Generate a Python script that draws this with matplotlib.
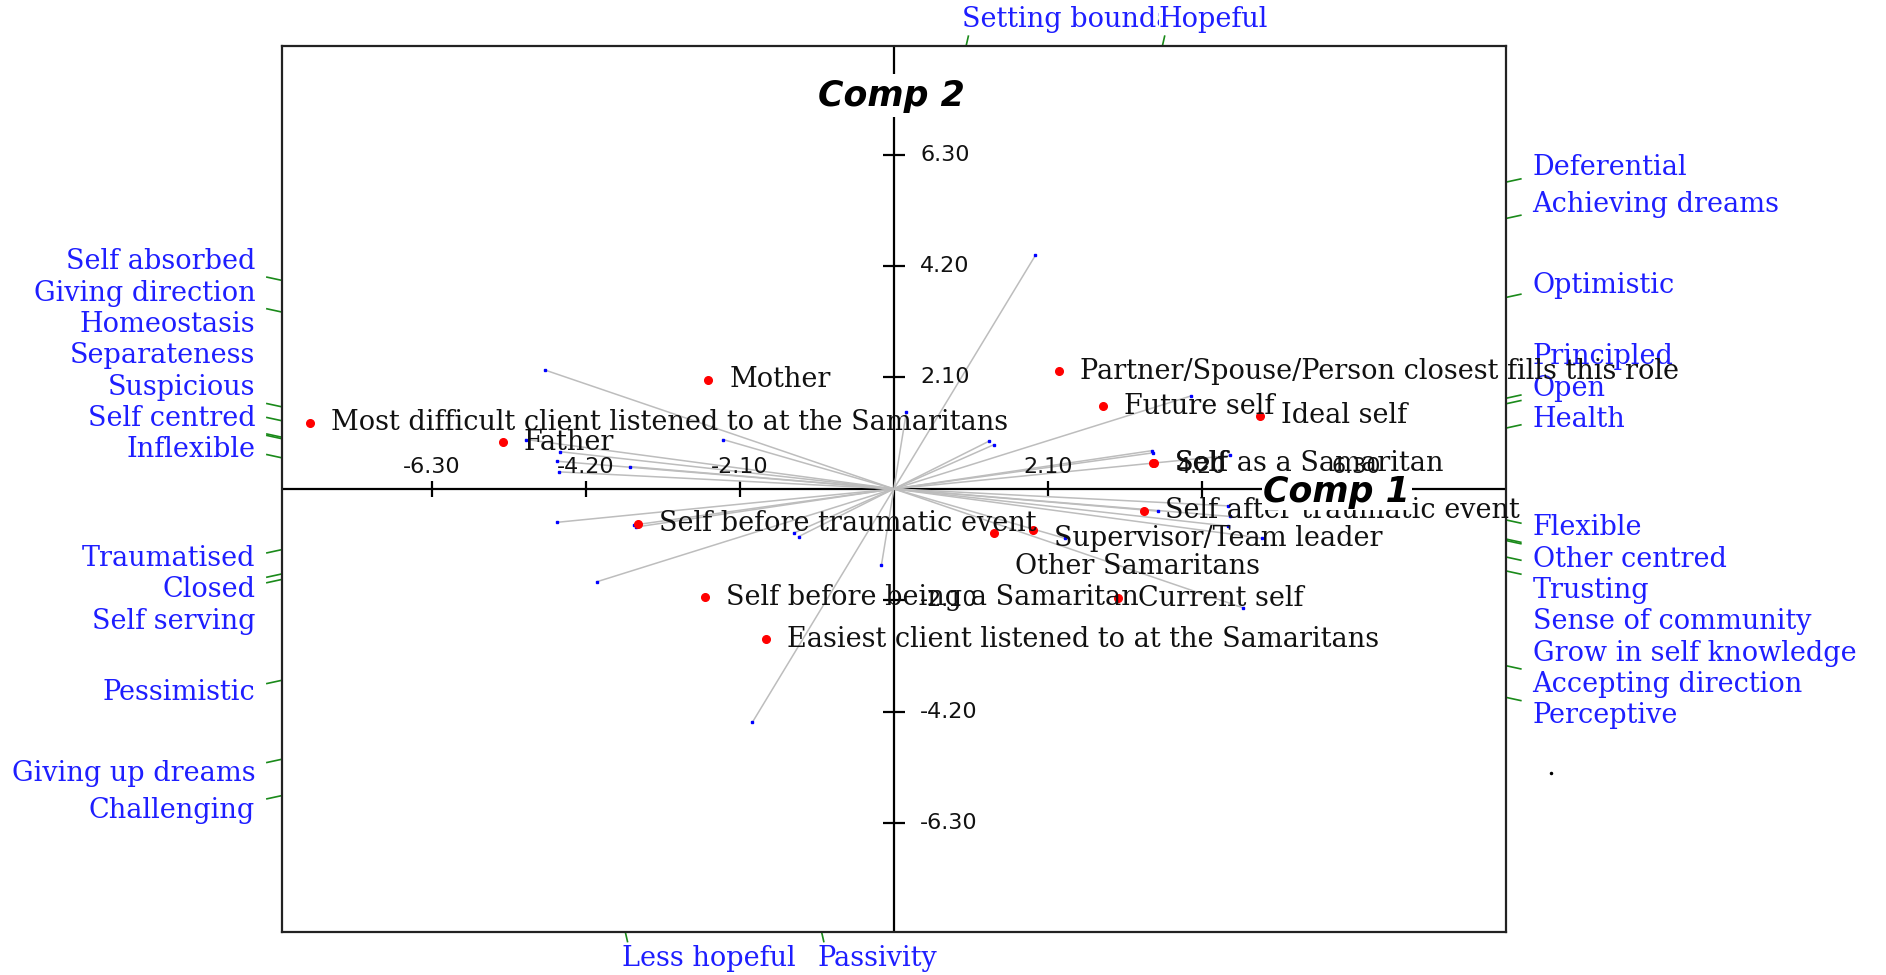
import numpy as np
import matplotlib.pyplot as plt

# ---------------------------------------------------------------------
# Grid data
# ---------------------------------------------------------------------
# Elements (red points)
element_names = [
    "Mother",
    "Most difficult client listened to at the Samaritans",
    "Father",
    "Partner/Spouse/Person closest fills this role",
    "Future self",
    "Ideal self",
    "Self",
    "Self as a Samaritan",
    "Self after traumatic event",
    "Self before traumatic event",
    "Supervisor/Team leader",
    "Other Samaritans",
    "Current self",
    "Self before being a Samaritan",
    "Easiest client listened to at the Samaritans",
]
element_x = [-2.53, -7.96, -5.33, 2.25, 2.85, 4.99, 3.54, 3.55, 3.41, -3.49, 1.90, 1.36, 3.05, -2.58, -1.74]
element_y = [2.06, 1.25, 0.88, 2.22, 1.56, 1.38, 0.48, 0.48, -0.41, -0.66, -0.77, -0.84, -2.06, -2.04, -2.83]

# Constructs: left pole, right pole, loading towards the right pole
left_poles = [
    "Self absorbed", "Giving direction", "Homeostasis", "Separateness",
    "Suspicious", "Self centred", "Inflexible", "Traumatised", "Closed",
    "Self serving", "Pessimistic", "Giving up dreams", "Challenging",
    "Less hopeful", "Passivity",
]
right_poles = [
    "Perceptive", "Accepting direction", "Grow in self knowledge",
    "Sense of community", "Trusting", "Other centred", "Flexible",
    "Health", "Open", "Principled", "Optimistic", "Achieving dreams",
    "Deferential", "Hopeful", "Setting boundaries",
]
construct_x = [4.76, 2.33, 5.02, 4.55, 3.60, 4.59, 4.56, 4.59, 3.54, 3.52, 4.05, 1.36, 1.30, 1.93, 0.17]
construct_y = [-2.24, -0.93, -0.93, -0.70, -0.42, -0.52, -0.32, 0.63, 0.68, 0.72, 1.75, 0.83, 0.90, 4.40, 1.44]

axis_ticks = [-6.30, -4.20, -2.10, 2.10, 4.20, 6.30]

LIM = 8.35
BLUE = "#1e1eff"
GREEN = "#1a8a1a"
SERIF = "DejaVu Serif"
FS = 19.5

fig = plt.figure(figsize=(18.86, 9.75), dpi=100)
ax = fig.add_axes([0.1493, 0.0441, 0.6493, 0.9090])
ax.set_xlim(-LIM, LIM)
ax.set_ylim(-LIM, LIM)
ax.set_xticks([])
ax.set_yticks([])
for sp in ax.spines.values():
    sp.set_linewidth(1.6)
    sp.set_color("#222222")

# axes through the origin
ax.axhline(0, color="black", lw=1.6, zorder=1)
ax.axvline(0, color="black", lw=1.6, zorder=1)
ax.plot(axis_ticks, np.zeros(len(axis_ticks)), ls="none", marker="|",
        ms=12, mew=1.6, color="black", zorder=1)
ax.plot(np.zeros(len(axis_ticks)), axis_ticks, ls="none", marker="_",
        ms=16, mew=1.6, color="black", zorder=1)
for t in axis_ticks:
    ax.annotate(f"{t:.2f}", (t, 0), xytext=(0, 16), textcoords="offset points",
                ha="center", va="center", fontsize=16, color="#111111", zorder=3)
    ax.annotate(f"{t:.2f}", (0, t), xytext=(19, 0), textcoords="offset points",
                ha="left", va="center", fontsize=16, color="#111111", zorder=3)

# construct vectors
cx = np.array(construct_x)
cy = np.array(construct_y)
for vx, vy in zip(cx, cy):
    ax.plot([-vx, vx], [-vy, vy], color="#bdbdbd", lw=1.1, zorder=2)
ax.plot(np.r_[cx, -cx], np.r_[cy, -cy], ls="none", marker="s", ms=2,
        color="blue", zorder=3)

# construct pole labels in the margins
gap = 0.59       # min spacing between stacked labels (data units)
groups = {}
for i, (vx, vy) in enumerate(zip(cx, cy)):
    if abs(vy) > abs(vx):
        # exits through top / bottom
        xe = LIM * vx / vy
        for sgn, name in ((1, right_poles[i]), (-1, left_poles[i])):
            x0 = sgn * xe
            y0 = sgn * LIM
            ax.plot([x0, x0 + 0.03], [y0, y0 + sgn * 0.18], color=GREEN,
                    lw=1.2, clip_on=False)
            bb = dict(facecolor="white", edgecolor="none", pad=0) if name == "Hopeful" else None
            ax.text(x0 - 0.05, y0 + sgn * 0.5, name, ha="left", va="center",
                    fontsize=FS, family=SERIF, color=BLUE, clip_on=False,
                    bbox=bb, zorder=5 if bb else 4)
        continue
    slope = vy / vx
    for side, name in ((1, right_poles[i]), (-1, left_poles[i])):
        ye = side * LIM * slope
        groups.setdefault((side, ye > 0), []).append((abs(ye), abs(slope), ye, name))

for (side, above), items in groups.items():
    items.sort()
    prev = None
    sgn = 1 if above else -1
    for dist, sl, ye, name in items:
        target = dist + 0.136 + 0.204 * sl
        pos = target if prev is None else max(target, prev + gap)
        prev = pos
        ly = sgn * pos
        x0 = side * LIM
        ax.plot([x0, x0 + side * 0.2], [ye, ye + 0.06 * np.sign(ly - ye)],
                color=GREEN, lw=1.2, clip_on=False)
        ax.text(x0 + side * 0.36, ly, name, ha="left" if side > 0 else "right",
                va="center", fontsize=FS, family=SERIF, color=BLUE, clip_on=False)

# elements
ax.plot(element_x, element_y, ls="none", marker="o", ms=5.5, color="red", zorder=4)
nudge = {"Other Samaritans": (15.5, -24), "Supervisor/Team leader": (15, -6)}
for name, x, y in zip(element_names, element_x, element_y):
    dx, dy = nudge.get(name, (15, 0))
    ax.annotate(name, (x, y), xytext=(dx, dy), textcoords="offset points",
                ha="left", va="center", fontsize=FS, family=SERIF,
                color="#111111", zorder=5, annotation_clip=False)

# component labels
ax.text(6.04, -0.06, "Comp 1", ha="center", va="center", fontsize=25,
        fontweight="bold", style="italic", zorder=6,
        bbox=dict(facecolor="white", edgecolor="none", pad=1))
ax.text(-0.03, 7.41, "Comp 2", ha="center", va="center", fontsize=25,
        fontweight="bold", style="italic", zorder=6,
        bbox=dict(facecolor="white", edgecolor="none", pad=3))

# stray mark right of the plot
ax.plot([8.96], [-5.35], ls="none", marker="o", ms=1.5, color="black", clip_on=False)

fig.savefig("out.png", dpi=100)
